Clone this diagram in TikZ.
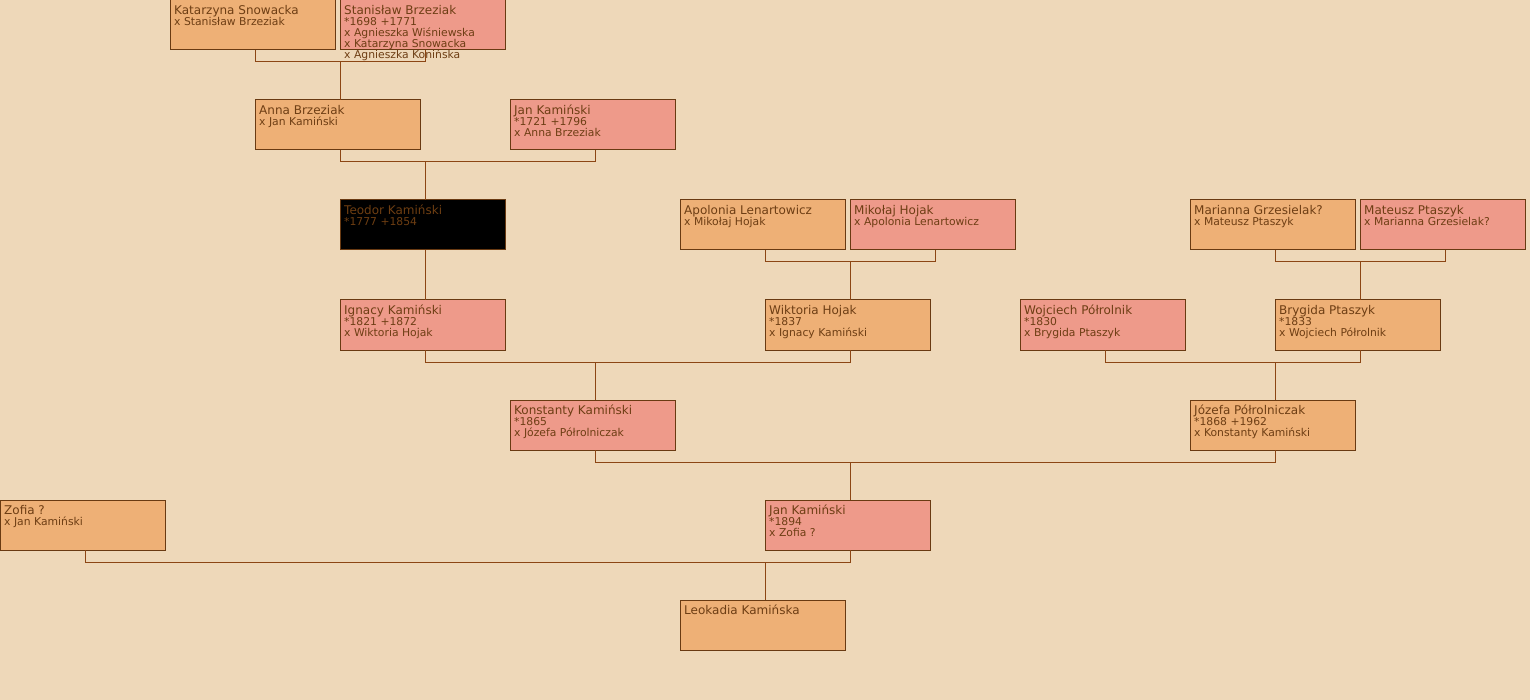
\documentclass[tikz,border=0pt]{standalone}
\usepackage{fontspec}
\setmainfont{DejaVu Sans}
\definecolor{bg}{RGB}{238,216,185}
\definecolor{fem}{RGB}{238,176,118}
\definecolor{mal}{RGB}{238,154,138}
\definecolor{edge}{RGB}{105,58,18}
\definecolor{conncol}{RGB}{140,70,20}
\definecolor{txtcol}{RGB}{110,62,20}
\definecolor{darktxt}{RGB}{110,62,18}
\newcommand{\nm}{\fontsize{12}{11}\selectfont\rule{0pt}{12pt}}
\newcommand{\fb}[5]{%
  \node[pbox, fill=#2] (#1) at (#3,#4) {};
  \node[ptxt] (#1t) at ([xshift=4pt,yshift=-2pt]#1.north west) {#5};}
\begin{document}
\begin{tikzpicture}[x=1pt,y=-1pt,
  pbox/.style={draw=edge, line width=1pt, anchor=north west, minimum width=165pt, minimum height=50pt, inner sep=0pt, outer sep=0pt},
  ptxt/.style={anchor=north west, inner sep=0pt, align=left, text=txtcol, font=\fontsize{10.8}{11}\selectfont},
  conn/.style={draw=conncol, line width=1pt}]
\fill[bg] (0,0) rectangle (1530,700);
\useasboundingbox (0,0) rectangle (1530,700);
\fb{ks}{fem}{170}{0}{{\nm Katarzyna Snowacka}\\x Stanisław Brzeziak}
\fb{sb}{mal}{340}{0}{{\nm Stanisław Brzeziak}\\*1698 +1771\\x Agnieszka Wiśniewska\\x Katarzyna Snowacka\\x Agnieszka Konińska}
\fb{ab}{fem}{255}{100}{{\nm Anna Brzeziak}\\x Jan Kamiński}
\fb{jk}{mal}{510}{100}{{\nm Jan Kamiński}\\*1721 +1796\\x Anna Brzeziak}
\node[pbox, fill=black] (tk) at (340,200) {};
\node[ptxt, text=darktxt] (tkt) at ([xshift=4pt,yshift=-2pt]tk.north west) {{\nm Teodor Kamiński}\\*1777 +1854};
\fb{al}{fem}{680}{200}{{\nm Apolonia Lenartowicz}\\x Mikołaj Hojak}
\fb{mh}{mal}{850}{200}{{\nm Mikołaj Hojak}\\x Apolonia Lenartowicz}
\fb{mg}{fem}{1190}{200}{{\nm Marianna Grzesielak?}\\x Mateusz Ptaszyk}
\fb{mp}{mal}{1360}{200}{{\nm Mateusz Ptaszyk}\\x Marianna Grzesielak?}
\fb{ik}{mal}{340}{300}{{\nm Ignacy Kamiński}\\*1821 +1872\\x Wiktoria Hojak}
\fb{wh}{fem}{765}{300}{{\nm Wiktoria Hojak}\\*1837\\x Ignacy Kamiński}
\fb{wp}{mal}{1020}{300}{{\nm Wojciech Półrolnik}\\*1830\\x Brygida Ptaszyk}
\fb{bp}{fem}{1275}{300}{{\nm Brygida Ptaszyk}\\*1833\\x Wojciech Półrolnik}
\fb{kk}{mal}{510}{400}{{\nm Konstanty Kamiński}\\*1865\\x Józefa Półrolniczak}
\fb{jp}{fem}{1190}{400}{{\nm Józefa Półrolniczak}\\*1868 +1962\\x Konstanty Kamiński}
\fb{zo}{fem}{0}{500}{{\nm Zofia ?}\\x Jan Kamiński}
\fb{jn}{mal}{765}{500}{{\nm Jan Kamiński}\\*1894\\x Zofia ?}
\fb{lk}{fem}{680}{600}{{\nm Leokadia Kamińska}}
% connectors
\draw[conn] ([xshift=2.5pt]ks.south) -- ++(0,12) -| ([xshift=2.5pt]sb.south);
\draw[conn] ([xshift=2.5pt]ab.north) -- ++(0,-38);
\draw[conn] ([xshift=2.5pt]ab.south) -- ++(0,12) -| ([xshift=2.5pt]jk.south);
\draw[conn] ([xshift=2.5pt]tk.north) -- ++(0,-38);
\draw[conn] ([xshift=2.5pt]tk.south) -- ([xshift=2.5pt]ik.north);
\draw[conn] ([xshift=2.5pt]al.south) -- ++(0,12) -| ([xshift=2.5pt]mh.south);
\draw[conn] ([xshift=2.5pt]wh.north) -- ++(0,-38);
\draw[conn] ([xshift=2.5pt]mg.south) -- ++(0,12) -| ([xshift=2.5pt]mp.south);
\draw[conn] ([xshift=2.5pt]bp.north) -- ++(0,-38);
\draw[conn] ([xshift=2.5pt]ik.south) -- ++(0,12) -| ([xshift=2.5pt]wh.south);
\draw[conn] ([xshift=2.5pt]kk.north) -- ++(0,-38);
\draw[conn] ([xshift=2.5pt]wp.south) -- ++(0,12) -| ([xshift=2.5pt]bp.south);
\draw[conn] ([xshift=2.5pt]jp.north) -- ++(0,-38);
\draw[conn] ([xshift=2.5pt]kk.south) -- ++(0,12) -| ([xshift=2.5pt]jp.south);
\draw[conn] ([xshift=2.5pt]jn.north) -- ++(0,-38);
\draw[conn] ([xshift=2.5pt]zo.south) -- ++(0,12) -| ([xshift=2.5pt]jn.south);
\draw[conn] ([xshift=2.5pt]lk.north) -- ++(0,-38);
\end{tikzpicture}
\end{document}
